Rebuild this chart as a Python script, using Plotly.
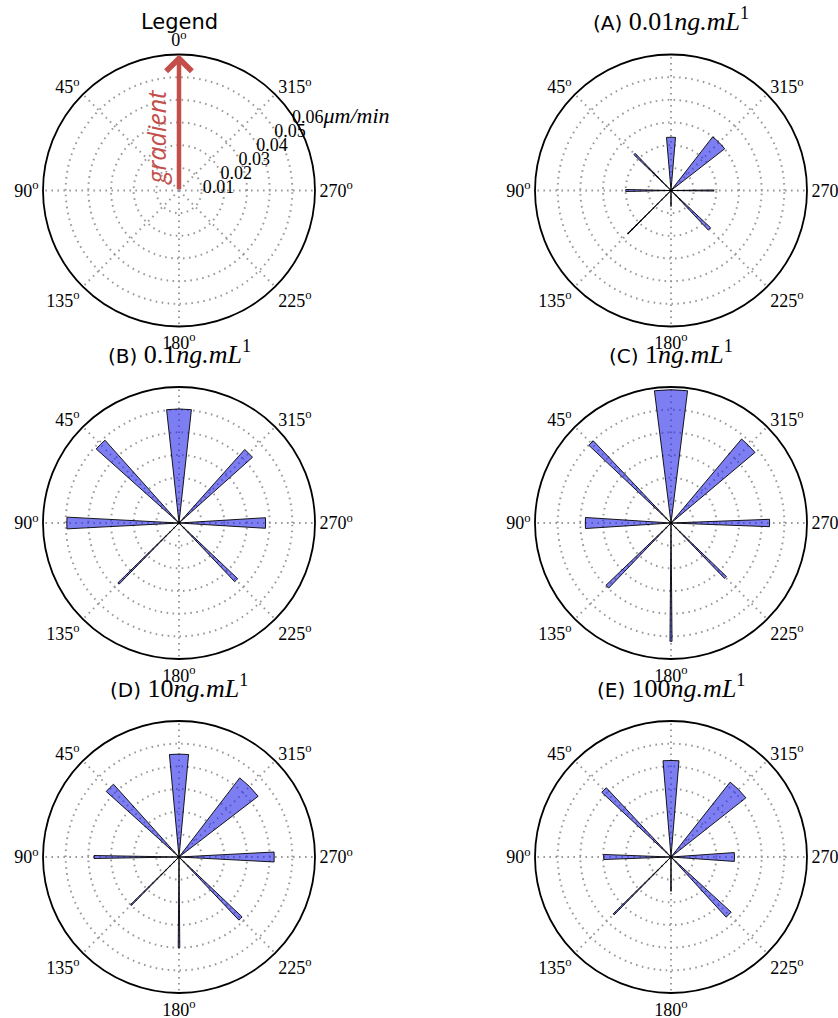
import plotly.graph_objects as go

# ---------------- data ----------------
directions = [0, 45, 90, 135, 180, 225, 270, 315]
angle_labels = ["0", "45", "90", "135", "180", "225", "270", "315"]
radial_ticks = [0.01, 0.02, 0.03, 0.04, 0.05, 0.06]
radial_ticktext = ["0.01", "0.02", "0.03", "0.04", "0.05",
                   "0.06<span style='font-size:22px'><i>μm/min</i></span>"]

panel_names = ["(A)", "(B)", "(C)", "(D)", "(E)"]
concentrations = ["0.01", "0.1", "1", "10", "100"]

speed_A = [0.0235, 0.0228, 0.0200, 0.0270, 0.0070, 0.0240, 0.0188, 0.0300]
width_A = [9.7, 2.0, 2.5, 0.8, 1.5, 3.5, 1.5, 14.3]

speed_B = [0.0503, 0.0490, 0.0495, 0.0378, 0.0000, 0.0357, 0.0382, 0.0435]
width_B = [12.5, 6.4, 6.0, 1.2, 1.0, 3.0, 7.0, 6.4]

speed_C = [0.0588, 0.0499, 0.0378, 0.0397, 0.0522, 0.0340, 0.0435, 0.0484]
width_C = [14.3, 3.2, 7.4, 2.5, 1.0, 2.0, 4.3, 9.9]

speed_D = [0.0454, 0.0432, 0.0375, 0.0300, 0.0400, 0.0384, 0.0420, 0.0440]
width_D = [10.7, 6.0, 2.0, 1.0, 1.0, 3.0, 6.0, 15.0]

speed_E = [0.0426, 0.0418, 0.0297, 0.0358, 0.0151, 0.0360, 0.0280, 0.0421]
width_E = [9.5, 3.9, 4.3, 1.0, 1.0, 5.0, 8.0, 13.4]

speeds = [speed_A, speed_B, speed_C, speed_D, speed_E]
widths = [width_A, width_B, width_C, width_D, width_E]

# ---------------- layout helpers ----------------
W, H = 838, 1018
R_PX = 136
centers = [(179, 190.5), (671, 190.5), (179, 523), (671, 523), (179, 857), (671, 857)]
RADIAL_ANGLE = 38


def domain(cx, cy):
    return dict(x=[(cx - R_PX) / W, (cx + R_PX) / W],
                y=[(H - cy - R_PX) / H, (H - cy + R_PX) / H])


SERIF = "Liberation Serif"
BAR_FILL = "rgba(40,40,235,0.6)"
GRID = "#9a9a9a"
GRIDDASH = "1.6px,4.4px"

fig = go.Figure()

polar_names = ["polar", "polar2", "polar3", "polar4", "polar5", "polar6"]

for i in range(5):
    fig.add_trace(go.Barpolar(
        r=speeds[i], theta=directions, width=widths[i],
        marker=dict(color=BAR_FILL, line=dict(color="black", width=0.9)),
        subplot=polar_names[i + 1], showlegend=False, hoverinfo="r+theta",
    ))

fig.add_trace(go.Scatterpolar(r=[0], theta=[0], mode="markers",
                              marker=dict(size=1, color="rgba(0,0,0,0)"),
                              subplot="polar", showlegend=False, hoverinfo="skip"))

layout = dict(width=W, height=H, margin=dict(l=0, r=0, t=0, b=0),
              paper_bgcolor="white", plot_bgcolor="white", showlegend=False)

for k, (cx, cy) in enumerate(centers):
    is_legend = (k == 0)
    angle_text = [a + "<sup>o</sup>" for a in angle_labels]
    if not is_legend:
        angle_text[0] = ""   # top label hidden under the panel title
    layout[polar_names[k]] = dict(
        domain=domain(cx, cy),
        bgcolor="white",
        radialaxis=dict(
            range=[0, 0.06], tickvals=radial_ticks,
            ticktext=radial_ticktext if is_legend else [""] * 6,
            showticklabels=is_legend, ticks="", showline=False,
            angle=RADIAL_ANGLE, side="clockwise", tickangle=RADIAL_ANGLE,
            tickfont=dict(family=SERIF, size=18, color="black"),
            gridcolor=GRID, griddash=GRIDDASH, gridwidth=1.5,
            layer="above traces",
        ),
        angularaxis=dict(
            direction="counterclockwise", rotation=90,
            tickmode="array", tickvals=directions,
            ticktext=angle_text,
            tickfont=dict(family=SERIF, size=18, color="black"),
            ticks="", showline=True, linecolor="black", linewidth=1.8,
            gridcolor=GRID, griddash=GRIDDASH, gridwidth=1.5,
            layer="above traces",
        ),
    )

annotations = []
annotations.append(dict(
    text="Legend", x=centers[0][0] / W, y=(H - (centers[0][1] - R_PX - 33)) / H,
    xref="paper", yref="paper", showarrow=False, xanchor="center", yanchor="middle",
    font=dict(family="DejaVu Sans", size=21, color="black")))

for i in range(5):
    cx, cy = centers[i + 1]
    txt = (panel_names[i] + " <span style='font-family:" + SERIF + ";font-size:26px'>"
           + concentrations[i] + "<i>ng.mL</i><sup>1</sup></span>")
    annotations.append(dict(
        text=txt, x=cx / W, y=(H - (cy - R_PX - 35)) / H,
        xref="paper", yref="paper", showarrow=False, xanchor="center", yanchor="middle",
        font=dict(family="DejaVu Sans", size=20, color="black")))

lcx, lcy = centers[0]
annotations.append(dict(
    x=lcx / W, y=(H - (lcy - R_PX)) / H, xref="paper", yref="paper",
    ax=0, ay=R_PX, axref="pixel", ayref="pixel",
    showarrow=True, arrowhead=4, arrowsize=1.1, arrowwidth=4.5,
    arrowcolor="#c44e4a", text=""))
annotations.append(dict(
    text="<i>gradient</i>", x=(lcx - 23) / W, y=(H - (lcy - 53)) / H,
    xref="paper", yref="paper", showarrow=False, textangle=-90,
    xanchor="center", yanchor="middle",
    font=dict(family="Open Sans", size=25, color="#c44e4a")))

layout["annotations"] = annotations
fig.update_layout(**layout)

fig.write_html("out.html", config={"displayModeBar": False},
               post_script="document.body.style.margin='0';document.body.style.padding='0';")
